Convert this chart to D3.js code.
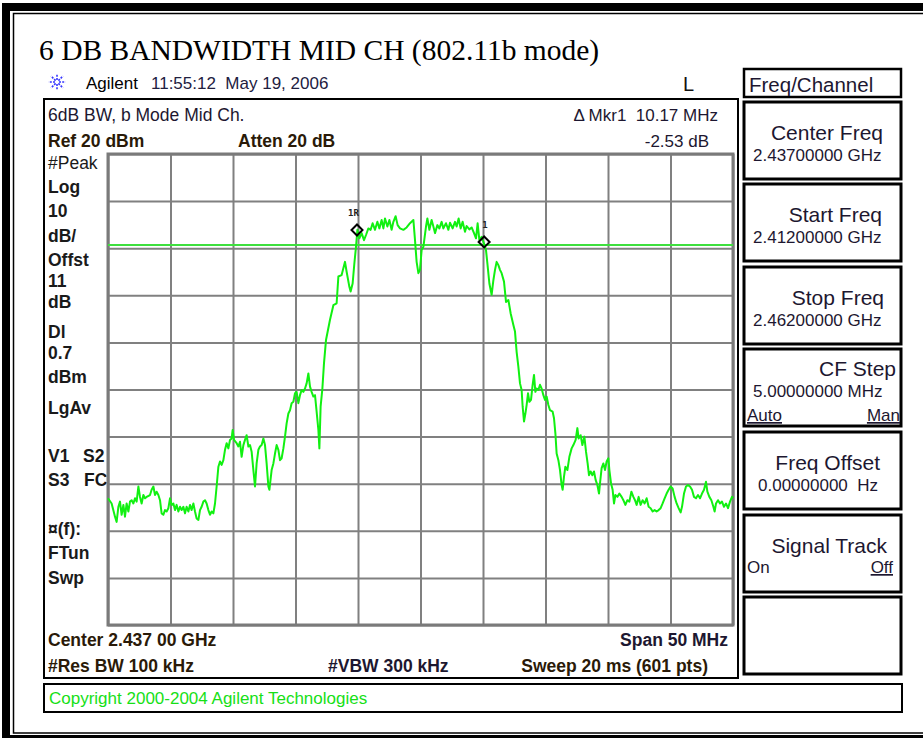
<!DOCTYPE html>
<html>
<head>
<meta charset="utf-8">
<script src="https://cdn.jsdelivr.net/npm/d3@7"></script>
<style>
body { margin: 0; background: #fff; }
text { font-family: Arial, "Liberation Sans", sans-serif; fill: #161616; white-space: pre; }
</style>
</head>
<body>
<svg id="chart" width="923" height="738"></svg>
<script>
// analyzer settings
var startMHz = 2412, stopMHz = 2462, mhzPerDiv = 5;
var refLevel = 20, dbPerDiv = 10, nDiv = 10;
var displayLine = 0.7;

// trace (MHz from start, dBm)
var traceOffsetMHz = [
  0.0, 0.29, 0.56, 0.69, 0.83, 0.96, 1.09, 1.23, 1.36, 1.49, 1.63, 1.76, 1.89, 2.03, 2.16, 2.29, 2.43, 2.56, 2.69, 2.83,
  2.96, 3.09, 3.36, 3.49, 3.63, 3.76, 3.89, 4.03, 4.16, 4.29, 4.43, 4.56, 4.69, 4.83, 4.96, 5.09, 5.23, 5.36, 5.49, 5.63,
  5.76, 5.89, 6.03, 6.16, 6.29, 6.43, 6.56, 6.69, 6.83, 6.96, 7.09, 7.23, 7.36, 7.49, 7.63, 7.76, 7.89, 8.03, 8.16, 8.29,
  8.43, 8.56, 8.69, 8.83, 8.96, 9.09, 9.23, 9.36, 9.49, 9.63, 9.76, 9.89, 9.97, 10.08, 10.29, 10.43, 10.56, 10.69, 10.83, 10.96,
  11.09, 11.23, 11.36, 11.49, 11.63, 11.76, 11.89, 12.03, 12.16, 12.29, 12.43, 12.56, 12.69, 12.83, 12.91, 13.09, 13.23, 13.36, 13.49, 13.63,
  13.76, 13.89, 14.03, 14.16, 14.29, 14.43, 14.56, 14.69, 14.83, 14.96, 15.09, 15.23, 15.36, 15.49, 15.63, 15.76, 15.89, 16.03, 16.16, 16.29,
  16.43, 16.56, 16.69, 16.83, 16.91, 17.01, 17.15, 17.28, 17.44, 17.76, 18.03, 18.29, 18.43, 18.69, 18.96, 19.09, 19.31, 19.41, 19.57, 19.71,
  19.84, 19.95, 20.11, 20.29, 20.48, 20.64, 20.83, 21.01, 21.17, 21.36, 21.55, 21.71, 21.89, 22.03, 22.16, 22.35, 22.51, 22.69, 22.83, 23.01,
  23.17, 23.36, 23.63, 23.89, 24.16, 24.43, 24.56, 24.69, 24.83, 24.96, 25.09, 25.23, 25.44, 25.55, 25.71, 25.89, 26.03, 26.16, 26.35, 26.51,
  26.69, 26.83, 27.04, 27.23, 27.36, 27.57, 27.76, 27.89, 28.05, 28.21, 28.37, 28.56, 28.69, 28.91, 29.09, 29.28, 29.44, 29.57, 29.71, 29.89,
  30.08, 30.24, 30.35, 30.51, 30.69, 30.83, 30.96, 31.09, 31.23, 31.36, 31.49, 31.68, 31.84, 32.03, 32.21, 32.43, 32.56, 32.69, 32.83, 32.96,
  33.09, 33.17, 33.28, 33.39, 33.49, 33.60, 33.71, 33.84, 33.97, 34.08, 34.19, 34.29, 34.43, 34.56, 34.69, 34.83, 34.96, 35.09, 35.23, 35.36,
  35.57, 35.68, 35.79, 35.89, 36.03, 36.16, 36.29, 36.37, 36.48, 36.59, 36.75, 36.91, 37.09, 37.23, 37.41, 37.55, 37.65, 37.81, 37.95, 38.11,
  38.24, 38.37, 38.48, 38.61, 38.75, 38.88, 39.01, 39.15, 39.28, 39.36, 39.49, 39.63, 39.76, 39.89, 40.03, 40.11, 40.24, 40.37, 40.48, 40.59,
  40.75, 40.91, 41.09, 41.23, 41.39, 41.55, 41.71, 41.87, 42.03, 42.16, 42.29, 42.45, 42.61, 42.77, 42.93, 43.09, 43.25, 43.41, 43.57, 43.73,
  43.89, 44.05, 44.21, 44.37, 44.53, 44.69, 44.85, 45.01, 45.17, 45.33, 45.49, 45.65, 45.81, 45.92, 46.08, 46.24, 46.40, 46.56, 46.72, 46.88,
  47.04, 47.20, 47.36, 47.52, 47.68, 47.84, 47.95, 48.11, 48.27, 48.43, 48.53, 48.64, 48.80, 48.96, 49.12, 49.28, 49.44, 49.60, 49.76, 49.92,
  50.0
];
var traceDbm = [
  -53.1, -54.2, -57.0, -58.1, -54.9, -53.8, -56.6, -54.5, -57.0, -54.2, -55.9, -53.8, -53.5, -54.2, -53.1, -53.8, -50.6, -52.8, -54.2, -52.4,
  -53.1, -52.8, -52.4, -51.3, -50.6, -52.4, -51.7, -52.4, -53.5, -56.3, -56.6, -55.6, -55.9, -55.2, -53.1, -54.5, -54.2, -55.6, -54.5, -55.9,
  -54.9, -55.6, -54.9, -56.3, -54.9, -55.9, -54.5, -55.6, -54.2, -55.9, -57.4, -57.7, -55.6, -54.9, -53.8, -53.5, -54.2, -55.6, -56.6, -55.9,
  -56.3, -54.2, -50.6, -46.4, -45.3, -46.0, -45.0, -42.8, -41.4, -42.5, -40.7, -40.4, -38.6, -40.7, -41.4, -42.1, -41.1, -44.3, -41.8, -40.7,
  -39.7, -42.1, -41.8, -43.2, -47.1, -50.6, -45.7, -42.8, -42.1, -41.8, -40.4, -41.8, -45.7, -50.6, -51.3, -47.1, -45.7, -43.6, -41.8, -42.8,
  -45.0, -44.6, -42.5, -40.0, -37.2, -35.1, -34.4, -32.9, -32.6, -30.8, -30.5, -32.9, -31.2, -30.1, -30.5, -29.8, -28.7, -26.6, -29.4, -30.5,
  -31.5, -31.2, -34.7, -38.6, -42.5, -33.6, -29.8, -24.4, -19.5, -15.2, -12.1, -11.7, -6.0, -5.7, -2.9, -5.0, -8.2, -9.2, -7.5, -3.2,
  0.3, 3.9, 2.1, 3.2, 1.7, 2.8, 4.2, 3.9, 5.3, 3.9, 5.6, 4.2, 6.0, 4.2, 6.3, 4.6, 6.0, 3.9, 5.6, 6.8,
  4.9, 4.2, 3.9, 4.4, 5.3, 6.0, 1.7, -2.9, -5.3, -4.6, -0.4, 0.3, 4.6, 6.3, 3.9, 6.0, 4.6, 3.2, 4.9, 4.2,
  5.6, 4.2, 5.3, 3.9, 5.4, 4.2, 5.6, 4.6, 6.3, 4.2, 5.6, 3.5, 4.7, 4.0, 4.4, 3.2, 2.1, 5.3, 1.7, 2.4,
  1.0, -0.4, -3.2, -7.5, -9.9, -6.8, -4.6, -2.9, -3.6, -4.6, -5.3, -7.1, -11.4, -11.0, -13.8, -16.3, -17.7, -22.0, -25.2, -28.7,
  -30.1, -33.6, -36.8, -35.1, -33.3, -30.8, -32.6, -32.2, -29.0, -26.9, -30.5, -29.8, -30.1, -29.0, -29.8, -31.2, -32.2, -31.5, -33.3, -34.4,
  -34.7, -36.1, -39.3, -43.6, -45.0, -47.1, -50.3, -51.3, -48.5, -46.4, -47.1, -44.3, -42.5, -41.8, -40.7, -38.2, -40.4, -39.7, -41.8, -40.0,
  -43.2, -45.7, -48.2, -47.4, -48.2, -47.4, -49.2, -50.3, -52.1, -49.9, -46.7, -45.7, -47.1, -45.3, -44.6, -47.1, -49.9, -51.3, -54.2, -52.4,
  -52.8, -52.1, -52.8, -53.5, -54.5, -53.5, -53.8, -51.7, -52.8, -53.5, -54.5, -52.8, -54.5, -53.5, -54.2, -53.1, -54.9, -55.2, -55.9, -55.6,
  -55.9, -55.6, -55.2, -54.2, -53.1, -52.1, -51.3, -50.6, -51.0, -52.8, -54.2, -55.2, -56.1, -54.9, -52.1, -50.6, -50.3, -50.6, -51.3, -52.8,
  -53.1, -52.4, -53.1, -52.1, -51.3, -49.6, -51.7, -52.8, -53.5, -54.9, -55.9, -54.2, -53.5, -54.2, -53.8, -54.9, -54.2, -55.2, -53.8, -52.8,
  -53.1
];

var markerLabels = ["1R", "1"];
var markerOffsetMHz = [19.92, 30.09];
var markerDbm = [3.86, 1.33];

var leftLabels = ["#Peak", "Log", "10", "dB/", "Offst", "11", "dB", "Dl", "0.7", "dBm", "LgAv", "V1", "S3", "\u00a4(f):", "FTun", "Swp"];
var softTitles = ["Center Freq", "Start Freq", "Stop Freq", "CF Step", "Freq Offset", "Signal Track", ""];
var softValues = ["2.43700000 GHz", "2.41200000 GHz", "2.46200000 GHz", "5.00000000 MHz", "0.00000000  Hz", "", ""];

var svg = d3.select("#chart");

// outer document frame
svg.append("rect").attr("x", 6).attr("y", 7).attr("width", 1000).attr("height", 732)
    .attr("fill", "none").attr("stroke", "#000").attr("stroke-width", 8);
svg.append("rect").attr("x", 13.5).attr("y", 13.5).attr("width", 1000).attr("height", 719.5)
    .attr("fill", "none").attr("stroke", "#000").attr("stroke-width", 1.5);

function txt(x, y, s, size, opts) {
    opts = opts || {};
    var t = svg.append("text").attr("x", x).attr("y", y).text(s)
        .style("font-size", size + "px");
    if (opts.bold) t.style("font-weight", "bold");
    if (opts.anchor) t.attr("text-anchor", opts.anchor);
    if (opts.fill) t.style("fill", opts.fill);
    if (opts.family) t.style("font-family", opts.family);
    if (opts.underline) t.style("text-decoration", "underline");
    return t;
}

txt(39, 60, "6 DB BANDWIDTH MID CH (802.11b mode)", 29.5, {family: "'Times New Roman', 'Liberation Serif', serif", fill: "#000"});

// agilent spark logo
var logo = svg.append("g").attr("transform", "translate(57,82)");
d3.range(8).forEach(function(i) {
    var a = i * Math.PI / 4;
    logo.append("line")
        .attr("x1", 2 * Math.cos(a)).attr("y1", 2 * Math.sin(a))
        .attr("x2", 8.5 * Math.cos(a)).attr("y2", 8.5 * Math.sin(a))
        .attr("stroke", "#3535ff").attr("stroke-width", 1.6)
        .attr("stroke-dasharray", "2,1.2");
});
txt(86, 89, "Agilent", 17, {fill: "#000"});
txt(151, 89, "11:55:12  May 19, 2006", 17, {fill: "#22203f"});
txt(683, 91, "L", 20, {fill: "#111"});

// screen frame
svg.append("rect").attr("x", 44).attr("y", 99).attr("width", 694).attr("height", 579)
    .attr("fill", "none").attr("stroke", "#000").attr("stroke-width", 2);

txt(48, 121, "6dB BW, b Mode Mid Ch.", 17.5, {fill: "#1d1730"});
txt(718, 121, "\u0394 Mkr1  10.17 MHz", 17, {anchor: "end", fill: "#1d1730"});
txt(48, 147, "Ref 20 dBm", 17.5, {bold: true, fill: "#2a1a08"});
txt(238, 147, "Atten 20 dB", 17.5, {bold: true, fill: "#2a1a08"});
txt(709, 147, "-2.53 dB", 17, {anchor: "end", fill: "#1d1730"});

var leftY = [169, 193, 217, 242, 266, 287, 308, 338, 359, 383, 414, 462, 486, 535, 559, 584];
leftLabels.forEach(function(s, i) {
    txt(48, leftY[i], s, 17.5, {bold: i > 0, fill: "#1a1a1a"});
});
txt(83, 462, "S2", 17.5, {bold: true});
txt(84, 486, "FC", 17.5, {bold: true});

// graticule
var gx0 = 108, gx1 = 733, gy0 = 154, gy1 = 625;
var xs = d3.scaleLinear().domain([startMHz, stopMHz]).range([gx0, gx1]);
var ys = d3.scaleLinear().domain([refLevel - dbPerDiv * nDiv, refLevel]).range([gy1, gy0]);

var gridX = svg.append("g").attr("transform", "translate(0," + gy1 + ")")
    .call(d3.axisBottom(xs).tickValues(d3.range(startMHz, stopMHz + 0.1, mhzPerDiv))
        .tickSize(-(gy1 - gy0)).tickFormat(""));
var gridY = svg.append("g").attr("transform", "translate(" + gx0 + ",0)")
    .call(d3.axisLeft(ys).tickValues(d3.range(refLevel - dbPerDiv * nDiv, refLevel + 0.1, dbPerDiv))
        .tickSize(-(gx1 - gx0)).tickFormat(""));
[gridX, gridY].forEach(function(g) {
    g.select(".domain").remove();
    g.selectAll("line").attr("stroke", "#808080").attr("stroke-width", 2);
});
svg.append("rect").attr("x", gx0).attr("y", gy0).attr("width", gx1 - gx0).attr("height", gy1 - gy0)
    .attr("fill", "none").attr("stroke", "#7a7a7a").attr("stroke-width", 3);

// display line
svg.append("line").attr("x1", gx0).attr("x2", gx1)
    .attr("y1", ys(displayLine)).attr("y2", ys(displayLine))
    .attr("stroke", "#3ee03e").attr("stroke-width", 2);

// trace
var pts = traceOffsetMHz.map(function(f, i) { return [startMHz + f, traceDbm[i]]; });
var line = d3.line().x(d => xs(d[0])).y(d => ys(d[1]));
svg.append("path").datum(pts).attr("d", line)
    .attr("fill", "none").attr("stroke", "#11f011").attr("stroke-width", 2)
    .attr("stroke-linejoin", "round");

// markers
markerLabels.forEach(function(lbl, i) {
    var mx = xs(startMHz + markerOffsetMHz[i]), my = ys(markerDbm[i]);
    svg.append("path")
        .attr("d", "M" + mx + "," + (my - 5.5) + "L" + (mx + 5.5) + "," + my + "L" + mx + "," + (my + 5.5) + "L" + (mx - 5.5) + "," + my + "Z")
        .attr("fill", "none").attr("stroke", "#000").attr("stroke-width", 2);
    txt(i == 0 ? mx - 9 : mx - 2, my - 14, lbl, 9, {bold: true, fill: "#222", family: "'DejaVu Sans Mono', monospace"});
});

txt(48, 646, "Center 2.437 00 GHz", 17.5, {bold: true, fill: "#2a1a08"});
txt(728, 646, "Span 50 MHz", 17.5, {bold: true, anchor: "end", fill: "#1d1730"});
txt(48, 672, "#Res BW 100 kHz", 17.5, {bold: true, fill: "#2a1a08"});
txt(328, 672, "#VBW 300 kHz", 17.5, {bold: true, fill: "#1d1730"});
txt(708, 672, "Sweep 20 ms (601 pts)", 17.5, {bold: true, anchor: "end", fill: "#2a1a08"});

// copyright strip
svg.append("rect").attr("x", 44).attr("y", 684).attr("width", 858).attr("height", 28)
    .attr("fill", "none").attr("stroke", "#000").attr("stroke-width", 2);
txt(49, 704, "Copyright 2000-2004 Agilent Technologies", 17, {fill: "#16e016"});

// softkey menu
svg.append("rect").attr("x", 744).attr("y", 69).attr("width", 157).attr("height", 28)
    .attr("fill", "none").attr("stroke", "#000").attr("stroke-width", 2.5);
txt(749, 92, "Freq/Channel", 20.5, {fill: "#1d1730"});

var keyTop = [102, 184, 267, 349, 432, 515, 597];
var titleEnd = [883, 882, 884, 896, 880, 887, 0];
keyTop.forEach(function(top, i) {
    svg.append("rect").attr("x", 744).attr("y", top).attr("width", 157).attr("height", 77)
        .attr("fill", "none").attr("stroke", "#000").attr("stroke-width", 3);
    // CF Step key carries an extra Auto/Man row, so its text sits higher
    var tOff = i == 3 ? 27 : 38, vOff = i == 3 ? 48 : 59;
    if (softTitles[i]) txt(titleEnd[i], top + tOff, softTitles[i], 21, {anchor: "end", fill: "#1d1730"});
    if (softValues[i]) txt(i == 4 ? 758 : 753, top + vOff, softValues[i], 17, {fill: "#1d1730"});
});
txt(747, 421, "Auto", 17, {underline: true, fill: "#1d1730"});
txt(900, 421, "Man", 17, {anchor: "end", underline: true, fill: "#1d1730"});
txt(747, 573, "On", 17, {fill: "#1d1730"});
txt(893, 573, "Off", 17, {anchor: "end", underline: true, fill: "#1d1730"});
</script>
</body>
</html>
